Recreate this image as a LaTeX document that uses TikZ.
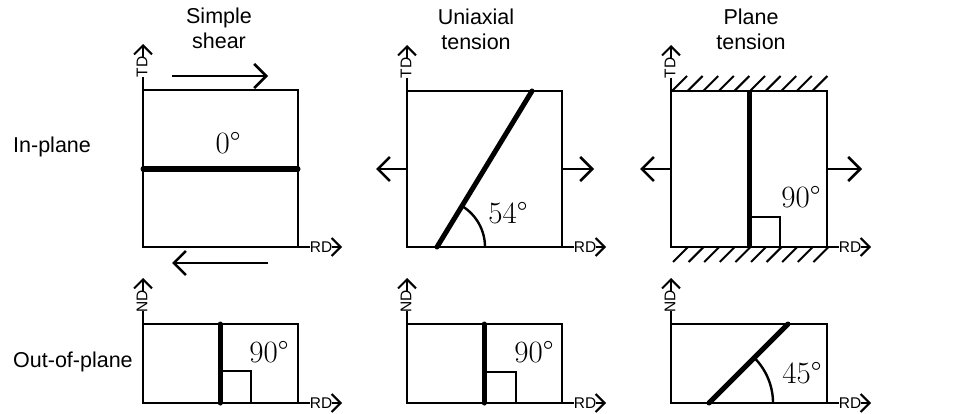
\documentclass[tikz,border=0pt]{standalone}
\usepackage{fontspec}
\setmainfont{Liberation Sans}
\newfontfamily\serifang{Latin Modern Roman}
\usetikzlibrary{arrows.meta}
\tikzset{
  box/.style={line width=2pt},
  strain/.style={line width=5pt, line cap=round},
  load/.style={line width=2.6pt, -{Straight Barb[length=12pt,width=24pt]}},
  axisline/.style={line width=2pt},
  axisarrow/.style={line width=2pt, -{Straight Barb[length=9pt,width=18pt]}},
  axlab/.style={font=\fontsize{15.5}{15.5}\selectfont, inner sep=0pt},
  ttl/.style={font=\fontsize{21.5}{25}\selectfont, align=center, inner sep=0pt, anchor=north},
  rowlab/.style={font=\fontsize{21.5}{25}\selectfont, inner sep=0pt, anchor=base west},
  anglab/.style={font=\serifang\fontsize{31}{31}\selectfont, inner sep=0pt},
  hatchline/.style={line width=2pt},
  rightang/.style={line width=2.8pt},
  arcline/.style={line width=2.4pt}
}
% #1 name prefix, #2 left x, #3 top y, #4 right x, #5 bottom y, #6 vertical label
\newcommand\myaxes[6]{%
  \coordinate (#1tl) at (#2,#3);
  \coordinate (#1br) at (#4,#5);
  \coordinate (#1va) at (#2,#3-13);
  \coordinate (#1vb) at (#2,#3-33);
  \coordinate (#1vt) at (#2,#3-46);
  \coordinate (#1ha) at (#4+12,#5);
  \coordinate (#1hb) at (#4+34,#5);
  \coordinate (#1ht) at (#4+44,#5);
  \draw[box] (#1tl) rectangle (#1br);
  \draw[axisline] (#1tl) -- (#1va);
  \node[axlab, rotate=90] (#1vlab) at (#2-1,#3-23) {#6};
  \draw[axisarrow] (#1vb) -- (#1vt);
  \draw[axisline] (#1br) -- (#1ha);
  \node[axlab] (#1hlab) at (#4+23,#5) {RD};
  \draw[axisarrow] (#1hb) -- (#1ht);
}
\begin{document}
\begin{tikzpicture}[x=1pt, y=-1pt]
\useasboundingbox (0,0) rectangle (957,414);

% titles
\node[ttl] (t1) at (219,8) {Simple\\shear};
\node[ttl] (t2) at (476,9) {Uniaxial\\tension};
\node[ttl] (t3) at (751,9) {Plane\\tension};
\node[rowlab] (r1) at (13,153) {In-plane};
\node[rowlab] (r2) at (13,367) {Out-of-plane};

% ---------- top row ----------
\myaxes{a}{143}{90}{298}{247}{TD}
\myaxes{b}{407}{91}{562}{247}{TD}
\myaxes{c}{671}{91}{827}{247}{TD}

% simple shear
\coordinate (a1) at (143,169);
\coordinate (a2) at (298,169);
\draw[strain] (a1) -- (a2);
\node[anglab] (aang) at (228,143) {0°};
\coordinate (as1) at (172,76);
\coordinate (as2) at (268,76);
\draw[load] (as1) -- (as2);
\coordinate (as3) at (268,263);
\coordinate (as4) at (172,263);
\draw[load] (as3) -- (as4);

% uniaxial tension
\coordinate (b1) at (437,247);
\coordinate (b2) at (532,91);
\draw[strain] (b1) -- (b2);
\draw[arcline] (485,247) arc[start angle=0, end angle=-58.66, radius=48];
\node[anglab] (bang) at (508,213) {54°};
\coordinate (bl1) at (407,169);
\coordinate (bl2) at (376,169);
\draw[load] (bl1) -- (bl2);
\coordinate (br1) at (562,169);
\coordinate (br2) at (594,169);
\draw[load] (br1) -- (br2);

% plane tension
\foreach \i in {0,...,9} {
  \draw[hatchline] (672+15.6*\i,91) -- (687+15.6*\i,76);
  \draw[hatchline] (673+15.6*\i,262) -- (688+15.6*\i,247);
}
\draw[box] (ctl) rectangle (cbr);
\coordinate (c1) at (749,247);
\coordinate (c2) at (749,91);
\draw[strain, line cap=butt] (c1) -- (c2);
\draw[rightang] (749,217) -- (780,217) -- (780,247);
\node[anglab] (cang) at (801,197) {90°};
\coordinate (cl1) at (671,169);
\coordinate (cl2) at (640,169);
\draw[load] (cl1) -- (cl2);
\coordinate (cr1) at (827,169);
\coordinate (cr2) at (862,169);
\draw[load] (cr1) -- (cr2);

% ---------- bottom row ----------
\myaxes{d}{143}{324}{298}{403}{ND}
\myaxes{e}{407}{324}{562}{403}{ND}
\myaxes{f}{671}{324}{827}{403}{ND}

\coordinate (d1) at (220,403);
\coordinate (d2) at (220,324);
\draw[strain] (d1) -- (d2);
\draw[rightang] (220,371) -- (251,371) -- (251,403);
\node[anglab] (dang) at (269,352) {90°};

\coordinate (e1) at (484,403);
\coordinate (e2) at (484,324);
\draw[strain] (e1) -- (e2);
\draw[rightang] (484,372) -- (516,372) -- (516,403);
\node[anglab] (eang) at (534,352) {90°};

\coordinate (f1) at (709,403);
\coordinate (f2) at (788,324);
\draw[strain] (f1) -- (f2);
\draw[arcline] (773,403) arc[start angle=0, end angle=-45, radius=64];
\node[anglab] (fang) at (802,373) {45°};
\end{tikzpicture}
\end{document}
